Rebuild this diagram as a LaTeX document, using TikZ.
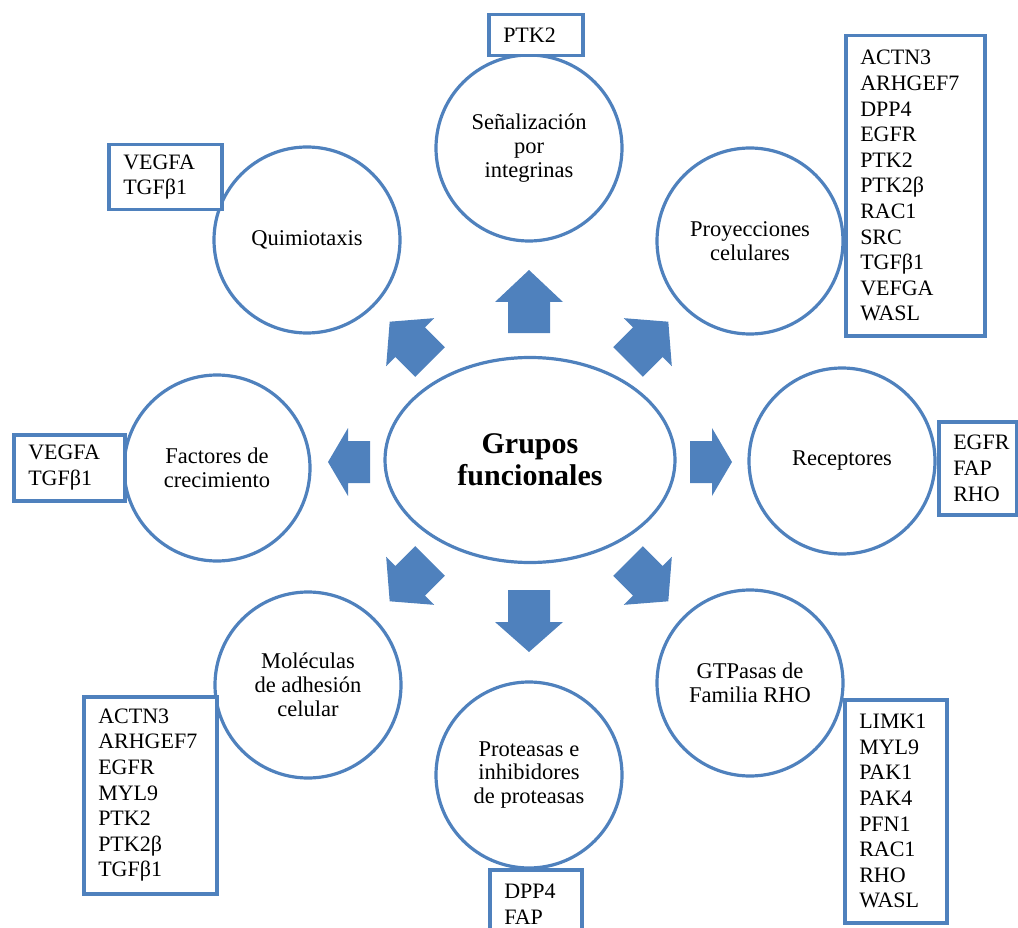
\documentclass[tikz,border=0pt]{standalone}
\usepackage{fontspec}
\setmainfont{Liberation Serif}
\usetikzlibrary{shapes.geometric}
\definecolor{blu}{HTML}{4F81BD}
\newcommand\BArrow[5]{%
  \fill[blu, shift={(#1,#2)}, rotate=#3] (0,-21) -- (#4-#5,-21) -- (#4-#5,-34) -- (#4,0) -- (#4-#5,34) -- (#4-#5,21) -- (0,21) -- cycle;}
\tikzset{
  grp/.style={circle, draw=blu, line width=3.2pt, fill=white, minimum size=186pt, inner sep=0pt, align=center,
    font=\fontsize{22.5}{23.8}\selectfont},
  gbox/.style={draw=blu, line width=3.5pt, fill=white, anchor=north west, inner xsep=14.5pt, inner ysep=0pt,
    align=left, font=\fontsize{22}{25.6}\selectfont},
}
\begin{document}
\begin{tikzpicture}[x=1pt,y=-1pt]
\useasboundingbox (0,0) rectangle (1018,928);
\clip (0,0) rectangle (1018,928);

% central ellipse
\node[ellipse, draw=blu, line width=3.2pt, minimum width=290pt, minimum height=205pt, align=center,
  font=\bfseries\fontsize{30}{32}\selectfont] (c) at (530,460) {Grupos\\funcionales};

% arrows
\BArrow{529}{333}{90}{63}{32}
\BArrow{529}{590}{270}{62}{30}
\BArrow{370}{462}{180}{42}{20}
\BArrow{690}{462}{0}{42}{20}
\BArrow{430}{362}{135}{57}{29}
\BArrow{628}{362}{45}{57}{29}
\BArrow{430}{561}{225}{57}{29}
\BArrow{628}{561}{315}{57}{29}

% group circles
\node[grp] (sen) at (529,148) {Señalización\\por\\integrinas};
\node[grp] (qui) at (307,240) {Quimiotaxis};
\node[grp] (pro) at (750,241) {Proyecciones\\celulares};
\node[grp] (fac) at (217,468) {Factores de\\crecimiento};
\node[grp] (rec) at (842,461) {Receptores};
\node[grp] (mol) at (308,685) {Moléculas\\de adhesión\\celular};
\node[grp] (gtp) at (750,683) {GTPasas de\\Familia RHO};
\node[grp] (prt) at (529,775) {Proteasas e\\inhibidores\\de proteasas};

% gene boxes
\node[gbox, text width=65pt, minimum height=41pt] (bsen) at (487,13) {PTK2};
\node[gbox, text width=110pt, minimum height=300pt] (bpro) at (844,34)
  {ACTN3\\ARHGEF7\\DPP4\\EGFR\\PTK2\\PTK2β\\RAC1\\SRC\\TGFβ1\\VEFGA\\WASL};
\node[gbox, text width=84pt, minimum height=65pt] (bqui) at (107,143) {VEGFA\\TGFβ1};
\node[gbox, text width=82pt, minimum height=66pt] (bfac) at (12,433) {VEGFA\\TGFβ1};
\node[gbox, text width=49pt, minimum height=93pt] (brec) at (937,420) {EGFR\\FAP\\RHO};
\node[gbox, text width=104pt, minimum height=197pt] (bmol) at (82,695)
  {ACTN3\\ARHGEF7\\EGFR\\MYL9\\PTK2\\PTK2β\\TGFβ1};
\node[gbox, text width=73pt, minimum height=223pt] (bgtp) at (843,698)
  {LIMK1\\MYL9\\PAK1\\PAK4\\PFN1\\RAC1\\RHO\\WASL};
\node[gbox, text width=63pt, minimum height=69pt] (bprt) at (488,868) {DPP4\\FAP};
\end{tikzpicture}
\end{document}
